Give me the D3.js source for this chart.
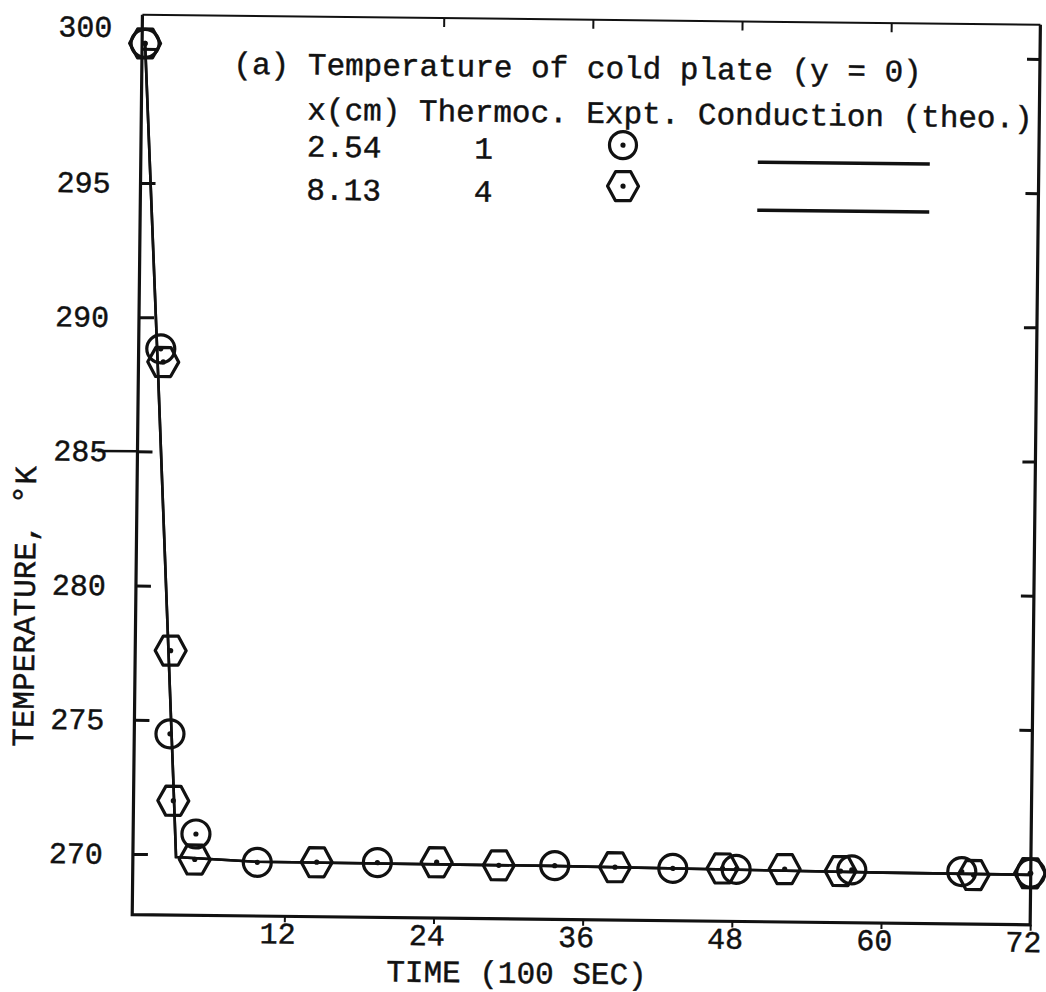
<!DOCTYPE html>
<html>
<head>
<meta charset="utf-8">
<script src="https://cdn.jsdelivr.net/npm/d3@7"></script>
<style>
  html, body { margin: 0; padding: 0; background: #fff; }
  svg { display: block; }
  text { font-family: "Liberation Mono", "DejaVu Sans Mono", monospace; fill: #111; stroke: #111; stroke-width: 0.45px; }
</style>
</head>
<body>
<script>
// Time axis (units of 100 s) and temperature axis (K)
const timeTicks = [12, 24, 36, 48, 60, 72];
const topTicks = [24, 36, 48, 60];
const tempTicks = [270, 275, 280, 285, 290, 295, 300];
const rightTicks = [275, 280, 285, 290, 295, 300];

// Thermocouple 1, x = 2.54 cm (circles)
const tc1Time = [0, 1.54, 2.63, 4.81, 9.77, 19.43, 33.7, 43.2, 48.3, 57.6, 66.45, 72];
const tc1Temp = [300.2, 288.83, 274.49, 270.77, 269.74, 269.78, 269.74, 269.69, 269.68, 269.71, 269.69, 269.66];

// Thermocouple 4, x = 8.13 cm (hexagons)
const tc4Time = [0, 1.75, 2.61, 2.96, 4.74, 14.55, 24.2, 29.2, 38.55, 47.2, 52.2, 56.7, 67.4, 71.95];
const tc4Temp = [300.2, 288.34, 277.59, 272.0, 269.82, 269.77, 269.82, 269.73, 269.71, 269.71, 269.71, 269.66, 269.57, 269.66];

// Conduction theory curves for both thermocouples
const theoTime = [0, 1.37, 2.94, 3.23, 9.74, 33.3, 60.1, 72];
const theo1Temp = [300.2, 287.67, 272.77, 269.9, 269.76, 269.73, 269.62, 269.6];
const theo4Temp = [300.2, 287.67, 272.77, 269.9, 269.76, 269.73, 269.62, 269.6];

// Legend text, typed in columns (column = character offset on the line)
const legendTitle = "(a) Temperature of cold plate (y = 0)";
const headerWords = ["x(cm)", "Thermoc.", "Expt.", "Conduction (theo.)"];
const headerCols = [0, 6, 15, 21];
const rowPositions = ["2.54", "8.13"];
const rowThermocouples = ["1", "4"];
const rowCols = [0, 9];

const W = 1046, H = 992;
const svg = d3.select("body").append("svg").attr("width", W).attr("height", H);
svg.append("rect").attr("width", W).attr("height", H).attr("fill", "#fff");

// the whole sheet sits slightly turned
const g = svg.append("g").attr("transform", "rotate(0.65,523,496)");

const x = d3.scaleLinear().domain([0, 72]).range([140, 1035]);
const y = d3.scaleLinear().domain([267.74, 301.27]).range([919, 19]);

const frameL = x(0) - 3, frameR = x(72), frameT = y(301.27), frameB = y(267.74);
const ink = "#111";
const typeSize = 31, pitch = 18.6;

// frame
g.append("path")
  .attr("d", `M${frameL},${frameT}L${frameR},${frameT}`)
  .attr("stroke", ink).attr("stroke-width", 2).attr("fill", "none");
g.append("path")
  .attr("d", `M${frameR},${frameT}L${frameR},${frameB}L${frameL},${frameB}L${frameL},${frameT}`)
  .attr("stroke", ink).attr("stroke-width", 3.2).attr("fill", "none");

// left axis: inward ticks, labels outside
const yAxis = g.append("g").attr("transform", `translate(${frameL},0)`)
  .call(d3.axisLeft(y).tickValues(tempTicks).tickSizeInner(-15).tickSizeOuter(0).tickPadding(30));
yAxis.select(".domain").remove();
yAxis.selectAll(".tick line").attr("stroke", ink).attr("stroke-width", 3);
yAxis.selectAll(".tick text")
  .attr("font-size", 30).attr("font-family", "Liberation Mono").attr("fill", ink)
  .attr("dy", d => d === 300 ? "-0.4em" : "0.32em");

// stroke running from the 285 label to the axis
g.append("line")
  .attr("x1", frameL - 40).attr("x2", frameL)
  .attr("y1", y(285)).attr("y2", y(285))
  .attr("stroke", ink).attr("stroke-width", 2.5);

// right axis: inward ticks only
const yAxisR = g.append("g").attr("transform", `translate(${frameR},0)`)
  .call(d3.axisRight(y).tickValues(rightTicks).tickSizeInner(-13).tickSizeOuter(0).tickFormat(""));
yAxisR.select(".domain").remove();
yAxisR.selectAll(".tick line").attr("stroke", ink).attr("stroke-width", 3);

// bottom axis
const xAxis = g.append("g").attr("transform", `translate(0,${frameB})`)
  .call(d3.axisBottom(x).tickValues(timeTicks).tickSizeInner(6).tickSizeOuter(0).tickPadding(0));
xAxis.select(".domain").remove();
xAxis.selectAll(".tick line").attr("stroke", ink).attr("stroke-width", 2);
xAxis.selectAll(".tick text")
  .attr("font-size", 30).attr("font-family", "Liberation Mono").attr("fill", ink)
  .attr("dx", -7);

// top axis: short downward ticks
const xAxisT = g.append("g").attr("transform", `translate(0,${frameT})`)
  .call(d3.axisTop(x).tickValues(topTicks).tickSizeInner(-9).tickSizeOuter(0).tickFormat(""));
xAxisT.select(".domain").remove();
xAxisT.selectAll(".tick line").attr("stroke", ink).attr("stroke-width", 2);

// axis titles
g.append("text")
  .attr("x", 522).attr("y", 983)
  .attr("text-anchor", "middle").attr("font-size", typeSize)
  .text("TIME (100 SEC)");

const yt = g.append("text")
  .attr("transform", "translate(36,612) rotate(-90)")
  .attr("text-anchor", "middle").attr("font-size", typeSize);
yt.append("tspan").text("TEMPERATURE, ");
yt.append("tspan").text("°").attr("font-size", 34);
yt.append("tspan").text("K");

// theory curves
const line = d3.line().x(d => x(d[0])).y(d => y(d[1]));
[theo1Temp, theo4Temp].forEach(temps => {
  g.append("path")
    .datum(theoTime.map((t, i) => [t, temps[i]]))
    .attr("d", line)
    .attr("fill", "none").attr("stroke", ink).attr("stroke-width", 2.6);
});

// markers
const hexPath = "M-15.5,0L-7.5,-14.5L7.5,-14.5L15.5,0L7.5,14.5L-7.5,14.5Z";
function drawCircle(sel, r) {
  sel.append("circle").attr("r", r).attr("fill", "none").attr("stroke", ink).attr("stroke-width", 3.2);
  sel.append("circle").attr("r", 2.6).attr("fill", ink);
}
function drawHex(sel) {
  sel.append("path").attr("d", hexPath).attr("fill", "none").attr("stroke", ink)
    .attr("stroke-width", 3.2).attr("stroke-linejoin", "round");
  sel.append("circle").attr("r", 2.6).attr("fill", ink);
}

const tc4 = tc4Time.map((t, i) => [t, tc4Temp[i]]);
g.append("g").selectAll("g").data(tc4).join("g")
  .attr("transform", d => `translate(${x(d[0])},${y(d[1])})`)
  .each(function () { drawHex(d3.select(this)); });

const tc1 = tc1Time.map((t, i) => [t, tc1Temp[i]]);
g.append("g").selectAll("g").data(tc1).join("g")
  .attr("transform", d => `translate(${x(d[0])},${y(d[1])})`)
  .each(function () { drawCircle(d3.select(this), 14); });

// legend
const colX = 303;
g.append("text").attr("x", colX - 4 * pitch).attr("y", 77).attr("font-size", typeSize)
  .style("white-space", "pre").text(legendTitle);
headerWords.forEach((w, i) => {
  g.append("text").attr("x", colX + headerCols[i] * pitch).attr("y", 122)
    .attr("font-size", typeSize).style("white-space", "pre").text(w);
});
rowPositions.forEach((pos, i) => {
  const ry = 159 + i * 43;
  g.append("text").attr("x", colX + rowCols[0] * pitch).attr("y", ry)
    .attr("font-size", typeSize).text(pos);
  g.append("text").attr("x", colX + rowCols[1] * pitch).attr("y", ry)
    .attr("font-size", typeSize).text(rowThermocouples[i]);
});
drawCircle(g.append("g").attr("transform", "translate(619,144)"), 13.5);
drawHex(g.append("g").attr("transform", "translate(619.5,185)"));
[159.5, 207.5].forEach(ly => {
  g.append("line").attr("x1", 754).attr("x2", 926).attr("y1", ly).attr("y2", ly)
    .attr("stroke", ink).attr("stroke-width", 3.5);
});
</script>
</body>
</html>
